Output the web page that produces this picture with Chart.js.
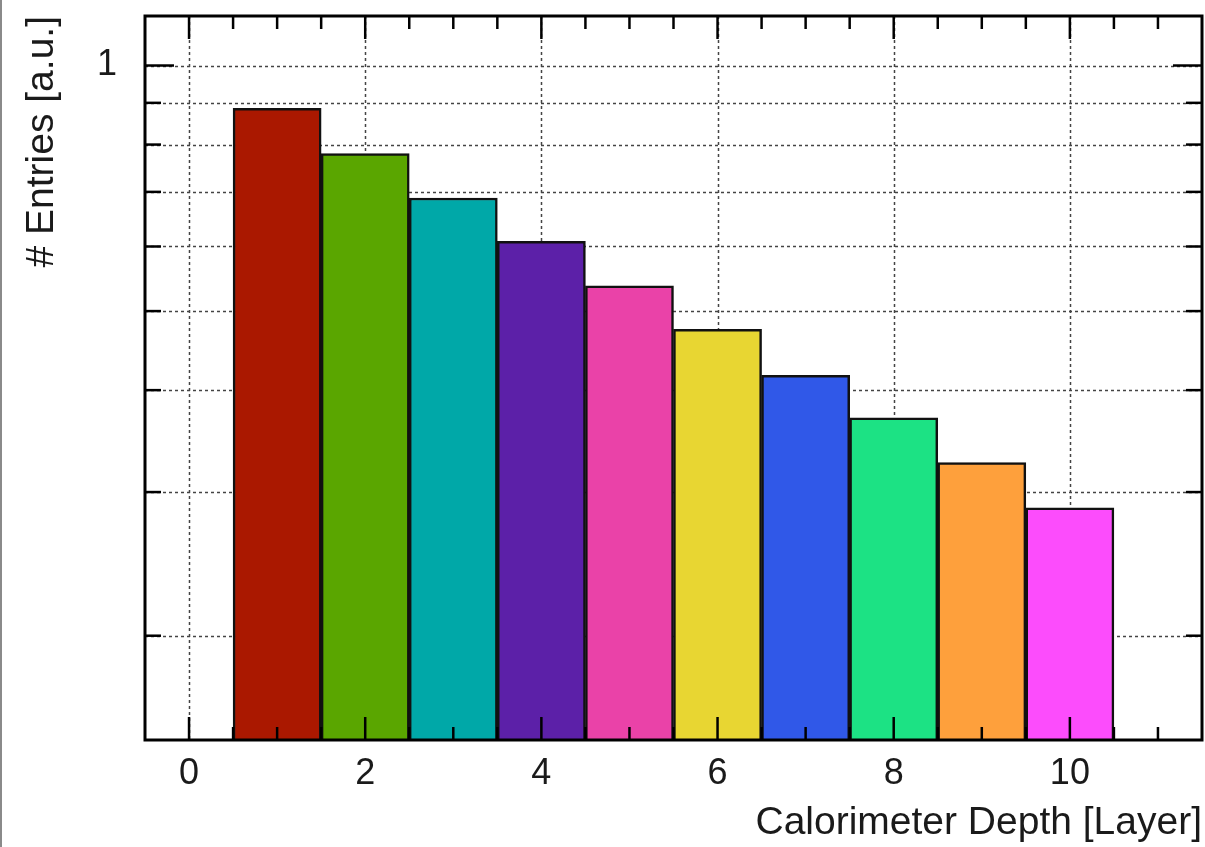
<!DOCTYPE html>
<html>
<head>
<meta charset="utf-8">
<script src="https://cdn.jsdelivr.net/npm/chart.js@4/dist/chart.umd.min.js"></script>
<style>
html,body{margin:0;padding:0;background:#fff;}
#wrap{position:relative;width:1205px;height:847px;}
#edge{position:absolute;left:0;top:0;width:2px;height:847px;background:#8a8a8a;}
</style>
</head>
<body>
<div id="wrap"><canvas id="c" width="1205" height="847"></canvas><div id="edge"></div></div>
<script>
const layers = [1, 2, 3, 4, 5, 6, 7, 8, 9, 10];
const entries = [0.886, 0.780, 0.688, 0.609, 0.537, 0.475, 0.417, 0.370, 0.326, 0.287];
const barColors = ['#aa1800', '#5aa600', '#00a8a8', '#5c20a8', '#ea42a8', '#e8d632', '#3058e8', '#1ce284', '#fea03c', '#fc4cfc'];
const yGridValues = [0.2, 0.3, 0.4, 0.5, 0.6, 0.7, 0.8, 0.9, 1];
const yTickLabels = {1: '1'};
const xLabelValues = [0, 2, 4, 6, 8, 10];
const xTitle = 'Calorimeter Depth [Layer]';
const yTitle = '# Entries [a.u.]';

const FONT = "'Liberation Sans', Arial, Helvetica, sans-serif";

const framePlugin = {
  id: 'rootFrame',
  beforeDatasetsDraw(chart) {
    const {ctx, chartArea: a, scales: {x, y}} = chart;
    ctx.save();
    ctx.strokeStyle = '#444';
    ctx.lineWidth = 1.5;
    ctx.setLineDash([3, 3]);
    yGridValues.forEach(v => {
      const py = Math.round(y.getPixelForValue(v)) + 0.5;
      ctx.beginPath(); ctx.moveTo(a.left, py); ctx.lineTo(a.right, py); ctx.stroke();
    });
    xLabelValues.forEach(v => {
      const px = Math.round(x.getPixelForValue(v)) + 0.5;
      ctx.beginPath(); ctx.moveTo(px, a.top); ctx.lineTo(px, a.bottom); ctx.stroke();
    });
    ctx.restore();
  },
  afterDatasetsDraw(chart) {
    const {ctx, chartArea: a, scales: {x, y}} = chart;
    ctx.save();
    ctx.strokeStyle = '#000';
    ctx.lineWidth = 2.5;
    ctx.setLineDash([]);
    // x ticks every half unit (inward, bottom and top)
    for (let k = Math.ceil(x.min * 2) + 1; k < x.max * 2; k++) {
      const v = k / 2;
      const px = x.getPixelForValue(v);
      const len = (k % 4 === 0) ? 23 : 13;
      ctx.beginPath(); ctx.moveTo(px, a.bottom); ctx.lineTo(px, a.bottom - len); ctx.stroke();
      ctx.beginPath(); ctx.moveTo(px, a.top); ctx.lineTo(px, a.top + len); ctx.stroke();
    }
    yGridValues.forEach(v => {
      const py = y.getPixelForValue(v);
      const len = v === 1 ? 29 : 16;
      ctx.beginPath(); ctx.moveTo(a.left, py); ctx.lineTo(a.left + len, py); ctx.stroke();
      ctx.beginPath(); ctx.moveTo(a.right, py); ctx.lineTo(a.right - len, py); ctx.stroke();
    });
    ctx.lineWidth = 3;
    ctx.strokeRect(a.left, a.top, a.right - a.left, a.bottom - a.top);
    ctx.restore();
  }
};

new Chart(document.getElementById('c'), {
  type: 'bar',
  data: {
    datasets: [{
      data: layers.map((l, i) => ({x: l, y: entries[i]})),
      backgroundColor: barColors,
      borderColor: '#111',
      borderWidth: 2.5,
      borderSkipped: 'bottom',
      barPercentage: 1,
      categoryPercentage: 1
    }]
  },
  options: {
    responsive: false,
    animation: false,
    layout: {padding: {top: 16, right: 3, left: 0, bottom: 0}},
    plugins: {legend: {display: false}, tooltip: {enabled: false}},
    scales: {
      x: {
        type: 'linear',
        min: -0.5,
        max: 11.5,
        offset: false,
        afterFit: s => { s.height = 107; s.paddingLeft = 0; s.paddingRight = 0; },
        afterBuildTicks: s => { s.ticks = xLabelValues.map(v => ({value: v})); },
        grid: {display: false, drawTicks: false, offset: false},
        border: {display: false},
        ticks: {
          autoSkip: false,
          maxRotation: 0,
          padding: 12,
          color: '#1a1a1a',
          font: {family: FONT, size: 36},
          callback: v => String(v)
        },
        title: {
          display: true,
          text: xTitle,
          align: 'end',
          color: '#1a1a1a',
          font: {family: FONT, size: 39},
          padding: {top: 0, bottom: 0}
        }
      },
      y: {
        type: 'logarithmic',
        min: 0.149,
        max: 1.15,
        afterFit: s => { s.width = 145; s.paddingTop = 0; s.paddingBottom = 0; },
        afterBuildTicks: s => { s.ticks = yGridValues.map(v => ({value: v})); },
        grid: {display: false, drawTicks: false},
        border: {display: false},
        ticks: {
          autoSkip: false,
          padding: 28,
          color: '#1a1a1a',
          font: {family: FONT, size: 36},
          callback: v => yTickLabels[v] || ''
        },
        title: {
          display: true,
          text: yTitle,
          align: 'end',
          color: '#1a1a1a',
          font: {family: FONT, size: 39},
          padding: {top: 19, bottom: 0}
        }
      }
    }
  },
  plugins: [framePlugin]
});
</script>
</body>
</html>
